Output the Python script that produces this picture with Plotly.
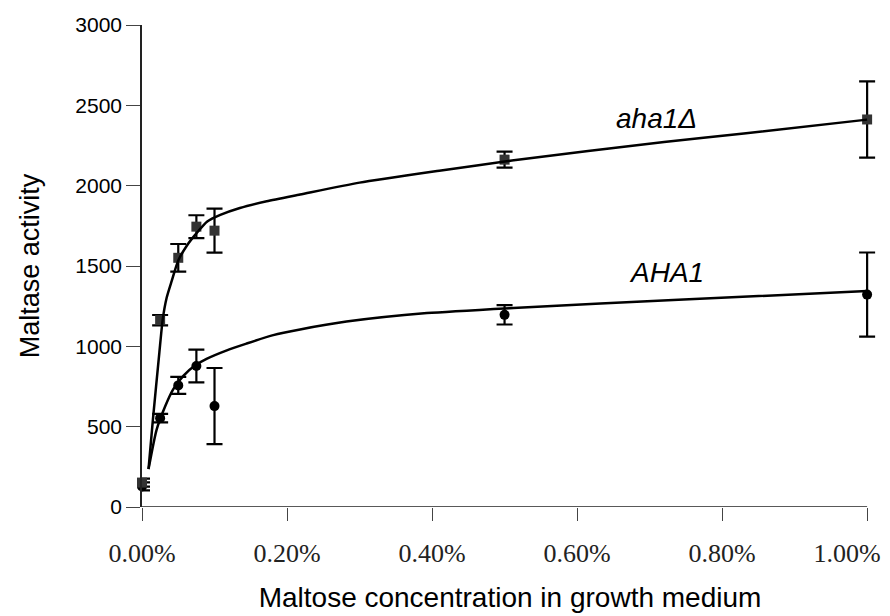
import plotly.graph_objects as go

# Measured data (maltose concentration in %)
conc = [0, 0.025, 0.05, 0.075, 0.1, 0.5, 1.0]
aha1d = [152, 1163, 1551, 1745, 1720, 2162, 2412]
aha1d_err = [25, 32, 86, 71, 137, 50, 237]
AHA1 = [128, 553, 757, 878, 628, 1196, 1322]
AHA1_err = [25, 26, 53, 102, 237, 60, 262]

# Trend-line values
fit_x_mut = [0.009, 0.015, 0.024, 0.0285, 0.034, 0.041, 0.05, 0.062, 0.075, 0.09,
             0.108, 0.135, 0.172, 0.218, 0.30, 0.41, 0.51, 0.72, 0.83, 1.0]
fit_y_mut = [236, 542, 964, 1165, 1302, 1407, 1534, 1628, 1703, 1777,
             1818, 1861, 1903, 1945, 2019, 2093, 2156, 2272, 2325, 2411]
fit_x_wt = [0.009, 0.020, 0.032, 0.043, 0.057, 0.073, 0.089, 0.117, 0.144, 0.181,
            0.218, 0.282, 0.393, 0.512, 0.747, 1.0]
fit_y_wt = [236, 479, 627, 732, 816, 880, 922, 975, 1017, 1070,
            1105, 1154, 1207, 1239, 1291, 1344]

x_ticks = [0, 0.2, 0.4, 0.6, 0.8, 1.0]
x_ticktext = ["0.00%", "0.20%", "0.40%", "0.60%", "0.80%", "1.00%"]
y_ticks = [0, 500, 1000, 1500, 2000, 2500, 3000]
x_range = [0, 1.015]

fig = go.Figure()

err_style = dict(type="data", thickness=2.2, width=8, color="black")

fig.add_trace(go.Scatter(
    x=conc, y=AHA1, mode="markers",
    marker=dict(symbol="circle", size=10, color="black"),
    error_y=dict(array=AHA1_err, **err_style),
    cliponaxis=False, showlegend=False))
fig.add_trace(go.Scatter(
    x=conc, y=aha1d, mode="markers",
    marker=dict(symbol="square", size=10, color="#333333"),
    error_y=dict(array=aha1d_err, **err_style),
    cliponaxis=False, showlegend=False))
fig.add_trace(go.Scatter(
    x=fit_x_wt, y=fit_y_wt, mode="lines",
    line=dict(color="black", width=2.5, shape="spline", smoothing=0.6),
    cliponaxis=False, showlegend=False))
fig.add_trace(go.Scatter(
    x=fit_x_mut, y=fit_y_mut, mode="lines",
    line=dict(color="black", width=2.5, shape="spline", smoothing=0.6),
    cliponaxis=False, showlegend=False))
# invisible carrier so the label-only second x axis is drawn
fig.add_trace(go.Scatter(
    x=conc[-1:], y=AHA1[-1:], xaxis="x2", mode="markers",
    marker=dict(opacity=0), hoverinfo="skip", showlegend=False))

fig.add_annotation(x=0.709, y=2418, text="<i>aha1Δ</i>", showarrow=False,
                   font=dict(family="Liberation Sans, Arial", size=28, color="black"))
fig.add_annotation(x=0.723, y=1462, text="<i>AHA1</i>", showarrow=False,
                   font=dict(family="Liberation Sans, Arial", size=28, color="black"))

# x axis baseline ending at the last tick
fig.add_shape(type="line", xref="x", yref="y", x0=0, x1=1.0, y0=0, y1=0,
              line=dict(color="#222222", width=1.5))

tick_font = dict(family="Liberation Serif, DejaVu Serif", size=26, color="#222222")

fig.update_layout(
    width=882, height=608,
    margin=dict(l=134, r=12, t=17, b=109),
    paper_bgcolor="white", plot_bgcolor="white",
    font=dict(family="Liberation Sans, Arial", color="black"),
    xaxis=dict(
        range=x_range, tickvals=x_ticks, ticktext=x_ticktext[:-1] + [""],
        showline=False, automargin=False,
        ticks="outside", ticklen=13, tickcolor="#444444", tickwidth=1.2,
        showgrid=False, zeroline=False,
        tickfont=tick_font,
        ticklabelstandoff=10, ticklabeloverflow="allow",
        title=dict(text="Maltose concentration in growth medium",
                   font=dict(family="Liberation Sans, Arial", size=28, color="black"),
                   standoff=20),
    ),
    # second x axis only carries the last tick label, nudged left to stay in view
    xaxis2=dict(
        overlaying="x", anchor="y", side="bottom", range=x_range,
        tickvals=x_ticks[-1:], ticktext=x_ticktext[-1:],
        ticks="outside", ticklen=13, tickcolor="rgba(0,0,0,0)",
        showline=False, showgrid=False, zeroline=False,
        automargin=False, tickfont=tick_font,
        ticklabelstandoff=10, ticklabelshift=-20, ticklabeloverflow="allow",
    ),
    yaxis=dict(
        range=[0, 3000], tickvals=y_ticks,
        showline=True, linecolor="#222222", linewidth=1.5, automargin=False,
        ticks="outside", ticklen=14, tickcolor="#444444", tickwidth=1.2,
        showgrid=False, zeroline=False,
        tickfont=dict(family="Liberation Sans, Arial", size=21, color="black"),
        ticklabelstandoff=0,
        title=dict(text="Maltase activity",
                   font=dict(family="Liberation Sans, Arial", size=27, color="black"),
                   standoff=28),
    ),
)

fig.write_html("out.html")
